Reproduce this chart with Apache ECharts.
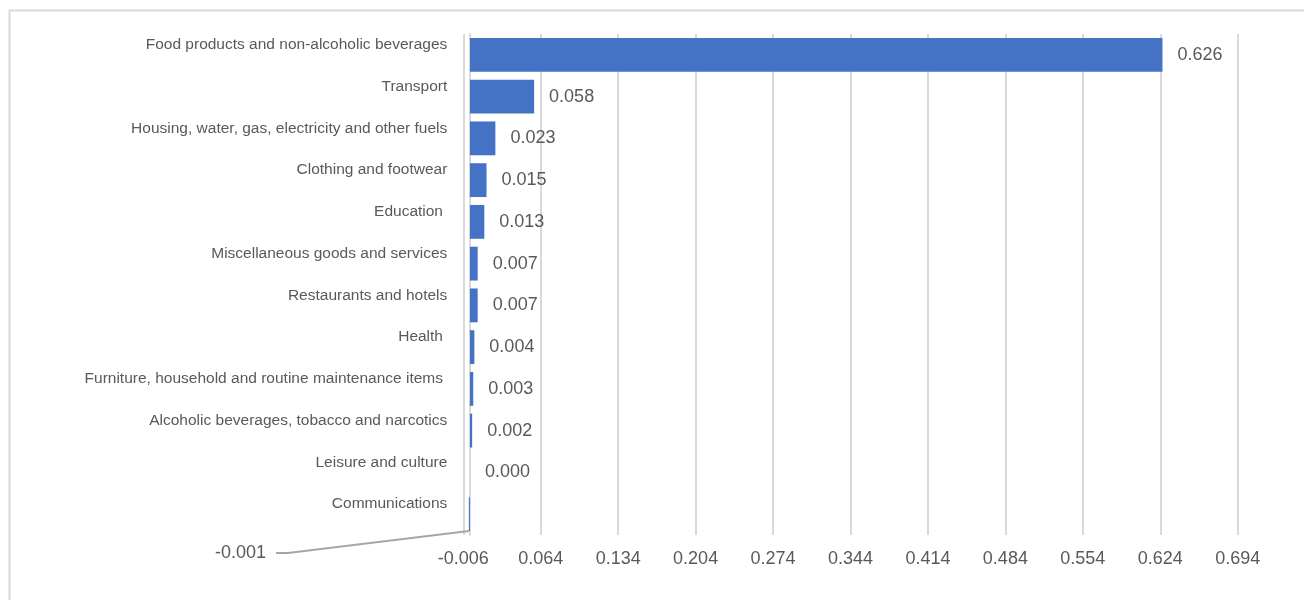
<!DOCTYPE html>
<html>
<head>
<meta charset="utf-8">
<script src="https://cdn.jsdelivr.net/npm/echarts@6/dist/echarts.min.js"></script>
<style>
html,body{margin:0;padding:0;background:#fff;}
#chart{width:1304px;height:600px;}
</style>
</head>
<body>
<div id="chart"></div>
<script>
const categories = [
  "Food products and non-alcoholic beverages",
  "Transport",
  "Housing, water, gas, electricity and other fuels",
  "Clothing and footwear",
  "Education ",
  "Miscellaneous goods and services",
  "Restaurants and hotels",
  "Health ",
  "Furniture, household and routine maintenance items ",
  "Alcoholic beverages, tobacco and narcotics",
  "Leisure and culture",
  "Communications"
];
const values = [0.626, 0.058, 0.023, 0.015, 0.013, 0.007, 0.007, 0.004, 0.003, 0.002, 0.000, -0.001];
const axisMin = -0.006;
const axisMax = 0.694;
const axisStep = 0.07;

const FONT = "'Liberation Sans', Arial, sans-serif";
const TEXT = '#595959';
const GRID = '#d9d9d9';
const movedIndex = values.length - 1;

const chart = echarts.init(document.getElementById('chart'));
const seriesData = values.map(function (v, i) {
  if (i === movedIndex) {
    return {
      value: v,
      labelLine: { show: true, length2: 12, lineStyle: { color: '#a6a6a6', width: 2 } }
    };
  }
  return v;
});

chart.setOption({
  animation: false,
  textStyle: { fontFamily: FONT },
  graphic: [{
    type: 'rect',
    left: 7, top: 8,
    shape: { width: 1320, height: 620 },
    style: { fill: 'none', stroke: GRID, lineWidth: 2 },
    silent: true
  }],
  grid: { left: 463.3, right: 66.3, top: 34, bottom: 65, containLabel: false, outerBoundsMode: 'none' },
  xAxis: {
    type: 'value',
    min: axisMin,
    max: axisMax,
    interval: axisStep,
    axisLine: { show: false },
    axisTick: { show: false },
    splitLine: { show: true, lineStyle: { color: GRID, width: 2 } },
    axisLabel: {
      color: TEXT, fontSize: 18, fontFamily: FONT, margin: 15,
      formatter: function (v) { return v.toFixed(3); }
    }
  },
  yAxis: {
    type: 'category',
    data: categories,
    inverse: true,
    axisLine: { show: true, onZero: true, lineStyle: { color: GRID, width: 2 } },
    axisTick: { show: false },
    axisLabel: {
      color: TEXT, fontSize: 15.5, fontFamily: FONT, margin: 16,
      verticalAlign: 'bottom', lineHeight: 20
    }
  },
  series: [{
    type: 'bar',
    data: seriesData,
    barCategoryGap: '19%',
    itemStyle: { color: '#4472C4' },
    label: {
      show: true,
      position: 'right',
      distance: 15,
      offset: [0, 2],
      color: TEXT,
      fontSize: 18,
      fontFamily: FONT,
      formatter: function (p) {
        const s = Number(p.value).toFixed(3);
        return p.dataIndex === movedIndex ? s + '  ' : s;
      }
    },
    labelLayout: function (p) {
      if (p.dataIndex === movedIndex) {
        return { x: 276, y: 553, align: 'right', verticalAlign: 'middle' };
      }
    }
  }]
});
</script>
</body>
</html>
